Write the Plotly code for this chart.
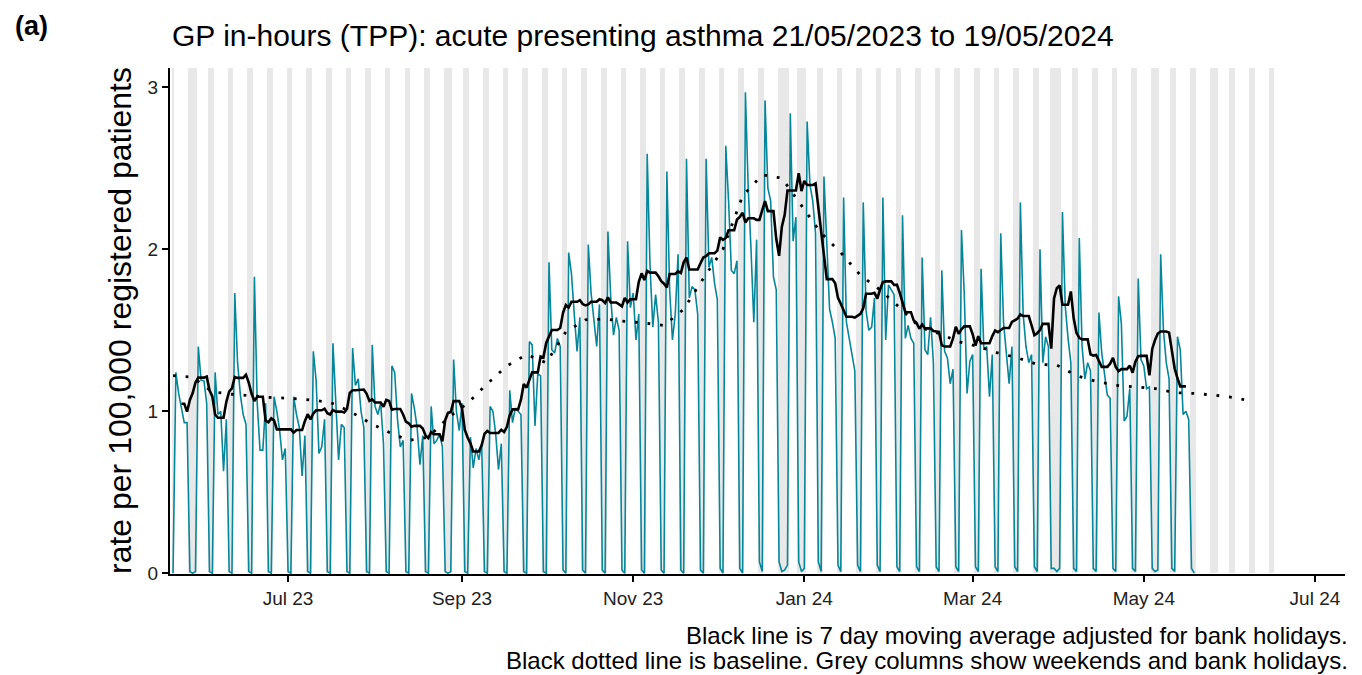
import pandas as pd
import plotly.graph_objects as go

# ---------------- data ----------------
start_date = "2023-05-21"          # Sunday, first day of data
first_sunday_value = 0.0
# Mon, Tue, Wed, Thu, Fri, Sat, Sun  (week starting Monday)
weeks = [
    [1.24, 1.11, 1.02, 0.93, 0.93, 0.01, 0.00],  # 22 May
    [0.01, 1.40, 1.19, 1.19, 1.05, 0.01, 0.00],  # 29 May (BH Mon)
    [1.24, 0.98, 1.00, 0.63, 0.95, 0.01, 0.00],  # 05 Jun
    [1.73, 1.30, 1.10, 0.98, 0.92, 0.01, 0.00],  # 12 Jun
    [1.83, 1.05, 0.76, 0.76, 1.05, 0.01, 0.00],  # 19 Jun
    [1.09, 1.00, 0.88, 0.70, 0.77, 0.01, 0.00],  # 26 Jun
    [1.09, 0.98, 0.90, 0.60, 0.85, 0.01, 0.00],  # 03 Jul
    [1.37, 1.19, 0.74, 0.78, 0.95, 0.01, 0.00],  # 10 Jul
    [1.42, 1.05, 0.70, 0.92, 0.90, 0.01, 0.00],  # 17 Jul
    [1.39, 1.16, 1.20, 1.00, 0.90, 0.01, 0.00],  # 24 Jul
    [1.41, 1.03, 0.98, 1.05, 0.80, 0.01, 0.00],  # 31 Jul
    [1.28, 1.24, 0.95, 0.78, 0.82, 0.01, 0.00],  # 07 Aug
    [1.11, 1.02, 0.90, 0.67, 0.85, 0.01, 0.00],  # 14 Aug
    [1.03, 0.80, 0.82, 0.86, 0.78, 0.01, 0.00],  # 21 Aug
    [0.01, 1.32, 1.00, 0.88, 1.05, 0.01, 0.00],  # 28 Aug (BH Mon)
    [0.84, 0.65, 0.77, 0.70, 0.80, 0.01, 0.00],  # 04 Sep
    [1.03, 1.00, 0.86, 0.64, 0.80, 0.01, 0.00],  # 11 Sep
    [1.13, 0.93, 1.02, 1.00, 0.98, 0.01, 0.00],  # 18 Sep
    [1.43, 1.41, 0.91, 1.23, 1.22, 0.01, 0.00],  # 25 Sep
    [1.92, 1.38, 1.36, 1.45, 1.40, 0.02, 0.00],  # 02 Oct
    [1.98, 1.85, 1.60, 1.37, 1.58, 0.02, 0.00],  # 09 Oct
    [2.03, 1.73, 1.56, 1.40, 1.66, 0.02, 0.00],  # 16 Oct
    [2.11, 1.70, 1.47, 1.58, 1.50, 0.02, 0.00],  # 23 Oct
    [2.05, 1.64, 1.73, 1.44, 1.60, 0.02, 0.00],  # 30 Oct
    [2.59, 1.90, 1.52, 1.72, 1.55, 0.02, 0.00],  # 06 Nov
    [2.48, 1.75, 1.44, 1.60, 1.97, 0.02, 0.00],  # 13 Nov
    [2.56, 1.70, 1.77, 1.75, 1.60, 0.02, 0.00],  # 20 Nov
    [2.56, 1.89, 1.95, 1.79, 1.69, 0.03, 0.00],  # 27 Nov
    [2.64, 2.30, 1.87, 1.85, 1.93, 0.03, 0.00],  # 04 Dec
    [2.97, 2.38, 2.00, 1.55, 2.06, 0.07, 0.01],  # 11 Dec
    [2.92, 2.38, 2.30, 1.83, 1.75, 0.07, 0.01],  # 18 Dec
    [0.02, 0.05, 2.84, 2.05, 2.20, 0.07, 0.01],  # 25 Dec (BH Mon, Tue)
    [0.03, 2.79, 2.40, 2.30, 2.10, 0.07, 0.01],  # 01 Jan (BH Mon)
    [2.45, 2.00, 1.63, 1.55, 1.45, 0.05, 0.01],  # 08 Jan
    [2.32, 1.55, 1.45, 1.35, 1.25, 0.05, 0.01],  # 15 Jan
    [2.29, 1.62, 1.50, 1.52, 1.70, 0.05, 0.01],  # 22 Jan
    [2.32, 1.44, 1.78, 1.75, 1.72, 0.04, 0.01],  # 29 Jan
    [2.21, 1.45, 1.53, 1.45, 1.42, 0.04, 0.01],  # 05 Feb
    [1.95, 1.38, 1.35, 1.58, 1.30, 0.04, 0.01],  # 12 Feb
    [1.87, 1.37, 1.33, 1.17, 1.26, 0.04, 0.01],  # 19 Feb
    [2.12, 1.73, 1.11, 1.31, 1.35, 0.04, 0.01],  # 26 Feb
    [1.88, 1.38, 1.40, 1.09, 1.35, 0.04, 0.01],  # 04 Mar
    [2.10, 1.55, 1.35, 1.17, 1.40, 0.04, 0.01],  # 11 Mar
    [2.29, 1.60, 1.40, 1.30, 1.35, 0.04, 0.01],  # 18 Mar
    [2.00, 1.30, 1.46, 1.40, 0.03, 0.03, 0.01],  # 25 Mar (BH Fri)
    [0.03, 2.23, 1.65, 1.45, 1.30, 0.03, 0.01],  # 01 Apr (BH Mon)
    [2.07, 1.40, 1.20, 1.30, 1.25, 0.03, 0.01],  # 08 Apr
    [1.61, 1.36, 1.22, 1.10, 1.08, 0.03, 0.01],  # 15 Apr
    [1.71, 1.54, 0.94, 0.97, 1.14, 0.03, 0.01],  # 22 Apr
    [1.82, 1.32, 1.28, 1.14, 1.15, 0.03, 0.01],  # 29 Apr
    [0.02, 1.97, 1.50, 1.30, 1.20, 0.03, 0.01],  # 06 May (BH Mon)
    [1.46, 1.38, 0.98, 1.00, 0.95, 0.03, 0.00],  # 13 May
]

bank_holidays = ["2023-05-29", "2023-08-28", "2023-12-25", "2023-12-26",
                 "2024-01-01", "2024-03-29", "2024-04-01", "2024-05-06",
                 "2024-05-27"]
grey_end_date = "2024-06-16"

# baseline, sampled every Sunday from 21/05/2023
baseline_start = "2023-05-21"
baseline_values = [
    1.22, 1.21, 1.12, 1.105, 1.095, 1.085, 1.08, 1.07, 1.055, 1.00,
    0.93, 0.87, 0.82, 0.84, 0.96, 1.05, 1.17, 1.28, 1.35, 1.30,
    1.49, 1.565, 1.57, 1.555, 1.545, 1.53, 1.63, 1.82, 2.00, 2.33,
    2.46, 2.44, 2.27, 2.10, 1.98, 1.84, 1.75, 1.64, 1.52, 1.48,
    1.43, 1.40, 1.36, 1.33, 1.29, 1.285, 1.22, 1.185, 1.16, 1.15,
    1.14, 1.115, 1.11, 1.10, 1.085, 1.06,
]

x_tick_dates = ["2023-07-01", "2023-09-01", "2023-11-01", "2024-01-01",
                "2024-03-01", "2024-05-01", "2024-07-01"]
y_tick_vals = [0, 1, 2, 3]

title_text = "GP in-hours (TPP): acute presenting asthma 21/05/2023 to 19/05/2024"
y_title = "rate per 100,000 registered patients"
footer_lines = ["Black line is 7 day moving average adjusted for bank holidays.",
                "Black dotted line is baseline. Grey columns show weekends and bank holidays."]

# ---------------- build series ----------------
daily_vals = [first_sunday_value] + [v for w in weeks for v in w]
dates = pd.date_range(start_date, periods=len(daily_vals), freq="D")
bh = set(pd.to_datetime(bank_holidays))
working = [(d.weekday() < 5) and (d not in bh) for d in dates]

ma_dates, ma_vals = [], []
for i in range(3, len(dates) - 3):
    win = [daily_vals[j] for j in range(i - 3, i + 4) if working[j]]
    if win:
        ma_dates.append(dates[i])
        ma_vals.append(sum(win) / len(win))

all_days = pd.date_range(start_date, grey_end_date, freq="D")
grey_days = [d for d in all_days if d.weekday() >= 5 or d in bh]

base_dates = pd.date_range(baseline_start, periods=len(baseline_values), freq="7D")

Y_TOP = 3.12
fig = go.Figure()
fig.add_trace(go.Bar(x=grey_days, y=[Y_TOP] * len(grey_days), width=86400000,
                     marker=dict(color="#E8E8E8", line=dict(width=0)),
                     hoverinfo="skip", showlegend=False))
fig.add_trace(go.Scatter(x=dates, y=daily_vals, mode="lines",
                         line=dict(color="#07869A", width=1.6), showlegend=False))
fig.add_trace(go.Scatter(x=base_dates, y=baseline_values, mode="lines",
                         line=dict(color="black", width=2.8, dash="2.8px,9.8px"),
                         showlegend=False))
fig.add_trace(go.Scatter(x=ma_dates, y=ma_vals, mode="lines",
                         line=dict(color="black", width=2.6), showlegend=False))

FONT = "Liberation Sans, Arial, sans-serif"
PW = 1175  # plot-area width in px
fig.update_layout(
    width=1362, height=675,
    margin=dict(l=162, r=25, t=60, b=109),
    plot_bgcolor="white", paper_bgcolor="white",
    bargap=0, barmode="overlay",
    font=dict(family=FONT, color="black"),
    xaxis=dict(range=["2023-05-19 22:00", "2024-07-11 17:00"], type="date",
               tickvals=x_tick_dates, tickformat="%b %y",
               ticks="outside", ticklen=6, tickwidth=1.6, tickcolor="black",
               showline=True, linecolor="black", linewidth=2.2,
               showgrid=False, zeroline=False,
               tickfont=dict(size=19, color="#222222")),
    yaxis=dict(range=[-0.005, Y_TOP], tickvals=y_tick_vals,
               ticks="outside", ticklen=6, tickwidth=1.6, tickcolor="black",
               showline=True, linecolor="black", linewidth=2.2,
               showgrid=False, zeroline=False,
               tickfont=dict(size=19, color="#222222")),
)

fig.add_annotation(text=title_text, xref="paper", yref="paper", x=0, y=1,
                   xanchor="left", yanchor="middle", yshift=33, showarrow=False,
                   font=dict(size=30, family=FONT, color="black"))
fig.add_annotation(text="<b>(a)</b>", xref="paper", yref="paper",
                   x=-156 / PW, y=1, xanchor="left", yanchor="top",
                   yshift=58, showarrow=False, borderpad=0,
                   font=dict(size=27, family=FONT, color="black"))
fig.add_annotation(text=y_title, xref="paper", yref="paper",
                   x=-50 / PW, y=0.5, xanchor="center", yanchor="middle",
                   textangle=-90, showarrow=False,
                   font=dict(size=32, family=FONT, color="black"))
fig.add_annotation(text=footer_lines[0], xref="paper", yref="paper",
                   x=1.0 + 5 / PW, y=0, xanchor="right", yanchor="middle",
                   yshift=-61, showarrow=False,
                   font=dict(size=24, family=FONT, color="black"))
fig.add_annotation(text=footer_lines[1], xref="paper", yref="paper",
                   x=1.0 + 5 / PW, y=0, xanchor="right", yanchor="middle",
                   yshift=-86, showarrow=False,
                   font=dict(size=24, family=FONT, color="black"))

fig.write_html("out.html")
